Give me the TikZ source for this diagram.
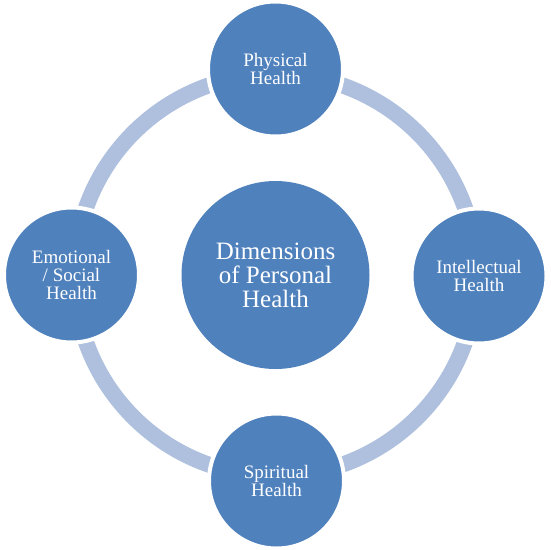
\documentclass[tikz,border=0pt]{standalone}
\usepackage{fontspec}
\setmainfont{Liberation Serif}
\definecolor{circblue}{RGB}{79,129,189}
\definecolor{ringblue}{RGB}{175,192,222}
\begin{document}
\begin{tikzpicture}[x=1pt,y=-1pt,
  outer/.style={circle,fill=circblue,draw=white,line width=4pt,minimum size=135pt,inner sep=0pt,
    text=white,align=center,font=\fontsize{19}{18}\selectfont},
  inner/.style={circle,fill=circblue,minimum size=188pt,inner sep=0pt,
    text=white,align=center,font=\fontsize{25}{24}\selectfont},
  ring/.style={draw=ringblue,line width=16pt}]
\fill[white] (0,0) rectangle (551,549);
\useasboundingbox (0,0) rectangle (551,549);
\coordinate (c) at (275.5,275);
\draw[ring] (c) circle[radius=201];
\node[inner] (dim) at (c) {Dimensions\\of Personal\\Health};
\node[outer] (phys) at (275.5,69) {Physical\\Health};
\node[outer] (intel) at (479,276) {Intellectual\\Health};
\node[outer] (spir) at (276.5,481) {Spiritual\\Health};
\node[outer] (emo) at (71.5,275) {Emotional\\/ Social\\Health};
\end{tikzpicture}
\end{document}
